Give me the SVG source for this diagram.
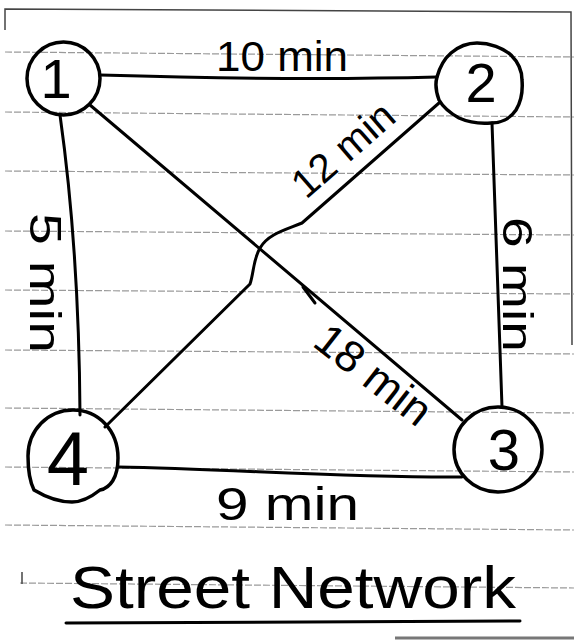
<svg xmlns="http://www.w3.org/2000/svg" width="574" height="641" viewBox="0 0 574 641">
<style>
.rule{stroke:#9a9a9a;stroke-width:1.2;stroke-dasharray:7 2;fill:none}
.frame{stroke:#444;stroke-width:1.5;fill:none}
.node{fill:none;stroke:#000;stroke-width:3.5;stroke-linejoin:round}
.edge{fill:none;stroke:#000;stroke-width:3;stroke-linecap:round;stroke-linejoin:round}
.num{font-family:"Liberation Sans","DejaVu Sans",sans-serif;fill:#000;text-anchor:middle}
.lbl{font-family:"Liberation Sans","DejaVu Sans",sans-serif;fill:#000}
</style>
<rect x="0" y="0" width="574" height="641" fill="#fff"/>
<g id="paper">
<path class="frame" d="M5,30 L5,9 L571,12 L572,345"/>
<path class="rule" d="M5,52 L574,57"/>
<path class="rule" d="M5,112 L574,117"/>
<path class="rule" d="M5,171 L574,175"/>
<path class="rule" d="M5,231 L574,235"/>
<path class="rule" d="M5,290 L574,294"/>
<path class="rule" d="M5,350 L574,354"/>
<path class="rule" d="M5,408 L574,413"/>
<path class="rule" d="M5,467 L574,472"/>
<path class="rule" d="M5,525 L574,530"/>
<path class="rule" d="M20,583 L574,588"/>
<path class="frame" d="M22,572 L22,584"/>
<path d="M395,638 L574,638" stroke="#777" stroke-width="3"/>
</g>
<g id="connectors">
<path class="edge" d="M100,75 C200,78 320,80 437,77"/>
<path class="edge" d="M60,115 Q79,250 80,415"/>
<path class="edge" d="M492,123 Q497,265 502,407"/>
<path class="edge" d="M90,105 L462,420"/>
<path class="edge" d="M303,287 L315,303"/>
<path class="edge" d="M439,103 L302,223 C285,230 268,234 260,248 C253,260 254,272 250,284 L105,427"/>
<path class="edge" d="M118,467 C230,469 350,478 462,477"/>
</g>
<g id="node1">
<ellipse class="node" cx="63.5" cy="78.5" rx="36.5" ry="36.5"/>
<text class="num" x="56" y="98" font-size="56">1</text>
</g>
<g id="node2">
<path class="node" d="M437,77 C440,66 444,59 451,53 C458,47 468,43 477,43 C490,43 503,48 511,55 C518,62 522,71 522,80 C523,92 521,102 516,110 C510,119 500,123 491,123 C480,124 468,122 459,118 C450,113 443,107 439,100 C436,92 435,84 437,77 Z"/>
<text class="num" x="481" y="102" font-size="56">2</text>
</g>
<g id="node3">
<ellipse class="node" cx="498" cy="449.5" rx="44" ry="42.5"/>
<text class="num" x="504" y="470" font-size="58">3</text>
</g>
<g id="node4">
<path class="node" d="M73,410 C98,410 118,430 118,458 C118,478 110,488 100,490 C90,498 82,502 72,502 C58,502 44,496 34,490 C29,480 28,468 28,456 C28,430 48,410 73,410 Z"/>
<text class="num" x="68" y="485" font-size="76">4</text>
</g>
<g id="labels">
<text class="lbl" x="216" y="71" font-size="42" textLength="132" lengthAdjust="spacingAndGlyphs">10 min</text>
<text class="lbl" transform="translate(306,200) rotate(-41)" font-size="40" textLength="122" lengthAdjust="spacingAndGlyphs">12 min</text>
<text class="lbl" transform="translate(30,213) rotate(90)" font-size="44" textLength="140" lengthAdjust="spacingAndGlyphs">5 min</text>
<text class="lbl" transform="translate(503,217) rotate(90)" font-size="42" textLength="135" lengthAdjust="spacingAndGlyphs">6 min</text>
<text class="lbl" transform="translate(311,345) rotate(38)" font-size="44" textLength="135" lengthAdjust="spacingAndGlyphs">18 min</text>
<text class="lbl" x="216" y="520" font-size="46" textLength="143" lengthAdjust="spacingAndGlyphs">9 min</text>
<text class="lbl" x="70" y="608" font-size="60" textLength="446" lengthAdjust="spacingAndGlyphs">Street Network</text>
<path class="edge" d="M66,623 L520,621"/>
</g>
</svg>
